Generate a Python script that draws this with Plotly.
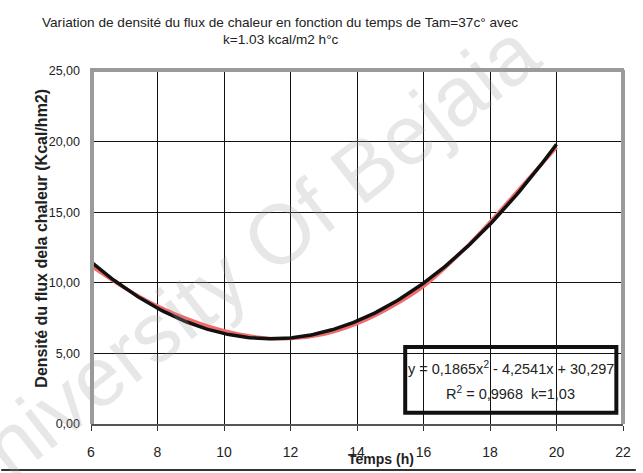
import numpy as np
import plotly.graph_objects as go

# ---- data ----
hours = [6, 7, 8, 9, 10, 11, 12, 13, 14, 15, 16, 17, 18, 19, 20]
flux = [11.2, 9.65, 8.35, 7.35, 6.6, 6.15, 6.05, 6.35, 7.1, 8.25, 9.75, 11.85, 14.3, 16.95, 19.6]
fit_coeffs = [0.1865, -4.2541, 30.297]  # trendline shown on chart
y_tickvals = [0, 5, 10, 15, 20, 25]
y_ticktext = ["0,00", "5,00", "10,00", "15,00", "20,00", "25,00"]
x_tickvals = [6, 8, 10, 12, 14, 16, 18, 20, 22]
x_ticktext = ["6", "8", "10", "12", "14", "16", "18", "20", "22"]

title_l1 = "Variation de densité du flux de chaleur en fonction du temps de Tam=37c° avec"
title_l2 = "k=1.03 kcal/m2 h°c"
y_title = "Densité du flux dela chaleur (Kcal/hm2)"
x_title = "Temps (h)"
eq_l1 = "y = 0,1865x<sup>2</sup> - 4,2541x + 30,297"
eq_l2 = "R<sup>2</sup> = 0,9968  k=1,03"
watermark = "University Of Bejaia"

# trendline evaluated from the chart's coefficients
x_fit = np.linspace(min(hours), max(hours), 200)
y_fit = np.polyval(fit_coeffs, x_fit)

W, H = 643, 473
L, R, T, B = 91, 630, 71, 424
FONT = "Liberation Sans, Arial, sans-serif"


def px(x):
    return (x - L) / (R - L)


def py(y):
    return (B - y) / (B - T)


fig = go.Figure()
fig.add_trace(go.Scatter(x=hours, y=flux, mode="lines",
                         line=dict(color="#f26b6b", width=3.5, shape="spline"),
                         showlegend=False, hoverinfo="skip"))
fig.add_trace(go.Scatter(x=x_fit, y=y_fit, mode="lines",
                         line=dict(color="#111111", width=3.5),
                         showlegend=False, hoverinfo="skip"))

fig.update_layout(
    width=W, height=H,
    margin=dict(l=L, r=W - R, t=T, b=H - B),
    paper_bgcolor="white", plot_bgcolor="white",
    font=dict(family=FONT, size=12, color="#222"),
    xaxis=dict(range=[6, 22], tickvals=x_tickvals, ticktext=x_ticktext,
               showgrid=True, gridcolor="#111", gridwidth=1, zeroline=False,
               showline=True, linecolor="#555", linewidth=2,
               ticks="outside", ticklen=5, tickcolor="#333", tickwidth=1,
               ticklabelstandoff=9, tickfont=dict(size=14, color="#222")),
    yaxis=dict(range=[0, 25], tickvals=y_tickvals, ticktext=y_ticktext,
               showgrid=True, gridcolor="#111", gridwidth=1, zeroline=False,
               showline=False, ticks="", ticklabelstandoff=10,
               tickfont=dict(size=12.5, color="#222")),
)

shapes = [
    # gray frame left/top/right
    dict(type="line", xref="paper", yref="paper", x0=px(L + 1), x1=px(L + 1), y0=py(B), y1=py(T - 1),
         line=dict(color="#9a9a9a", width=4)),
    dict(type="line", xref="paper", yref="paper", x0=px(L - 1), x1=px(R + 1), y0=py(T - 1), y1=py(T - 1),
         line=dict(color="#9a9a9a", width=4)),
    dict(type="line", xref="paper", yref="paper", x0=px(R), x1=px(R), y0=py(B), y1=py(T - 1),
         line=dict(color="#9a9a9a", width=4)),
    # equation box
    dict(type="rect", xref="x", yref="y", x0=15.45, x1=21.8, y0=0.8, y1=5.45,
         line=dict(color="#111", width=4)),
    # bottom rule of image
    dict(type="line", xref="paper", yref="paper", x0=px(0), x1=px(W), y0=py(470), y1=py(470),
         line=dict(color="#333", width=2)),
]
fig.update_layout(shapes=shapes)

C = dict(xanchor="center", yanchor="middle", showarrow=False)
annotations = [
    dict(text=title_l1, xref="paper", yref="paper", x=px(282), y=py(22),
         font=dict(size=13.6, color="#222"), **C),
    dict(text=title_l2, xref="paper", yref="paper", x=px(283), y=py(40),
         font=dict(size=13.6, color="#222"), **C),
    dict(text="<b>" + y_title + "</b>", xref="paper", yref="paper", x=px(40), y=py(238),
         textangle=-90, font=dict(size=16, color="#222"), **C),
    dict(text="<b>" + x_title + "</b>", xref="paper", yref="paper", x=px(385), y=py(459),
         font=dict(size=14, color="#222"), **C),
    dict(text=eq_l1, xref="x", yref="y", x=18.62, y=3.95,
         font=dict(size=14.5, color="#222"), **C),
    dict(text=eq_l2, xref="x", yref="y", x=18.62, y=2.2,
         font=dict(size=14.5, color="#222"), **C),
    dict(text=watermark, xref="paper", yref="paper", x=px(238), y=py(268), textangle=-38,
         font=dict(size=84, color="rgba(160,160,160,0.25)"), **C),
]
fig.update_layout(annotations=annotations)

fig.write_html("out.html", config={"displayModeBar": False},
               post_script="document.body.style.margin='0';")
